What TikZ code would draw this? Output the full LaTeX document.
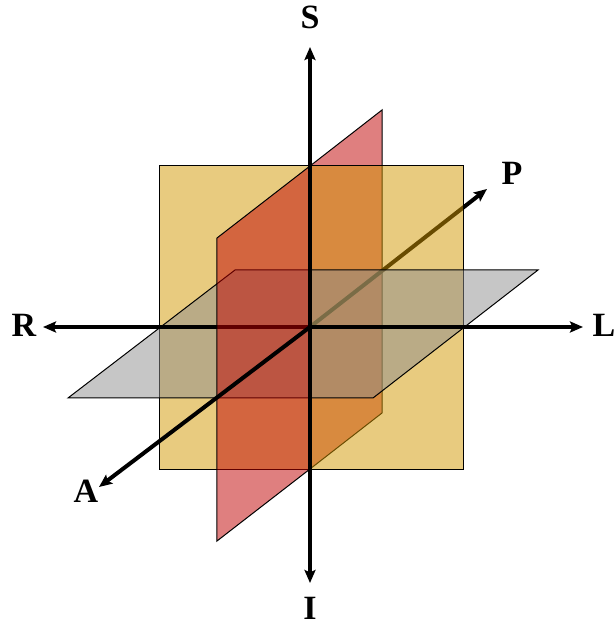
\documentclass[tikz,border=0pt]{standalone}
\usepackage{fontspec}
\setmainfont{Liberation Serif}
\usetikzlibrary{arrows.meta}
\definecolor{coronal}{RGB}{209,151,0}
\definecolor{sagittal}{RGB}{192,0,0}
\definecolor{axial}{RGB}{141,141,141}
\tikzset{
  >={Stealth[length=6.5pt,width=5.5pt,inset=1.2pt]},
  plane/.style={fill opacity=0.5, draw=black, line width=0.5pt},
  edge/.style={line width=0.5pt},
  axis/.style={line width=2pt},
  axislabel/.style={font=\fontsize{17}{20}\selectfont\bfseries, inner sep=0pt},
}
\begin{document}
\begin{tikzpicture}[x=0.5pt,y=0.5pt]
  \useasboundingbox (-310,-299) rectangle (304,327);
  % axis ends
  \coordinate (O) at (0,0);
  \coordinate (Stip) at (0,280);
  \coordinate (Itip) at (0,-256);
  \coordinate (Rtip) at (-267,0);
  \coordinate (Ltip) at (273,0);
  \coordinate (Atip) at (-211,-160);
  \coordinate (Ptip) at (177,138);
  % sagittal plane, back half
  \fill[sagittal, fill opacity=0.5] (0,161) -- (72,217) -- (72,-86) -- (0,-142) -- cycle;
  \draw[edge] (0,161) -- (72,217) -- (72,-86) -- (0,-142);
  \draw[axis,->] (O) -- (Ptip);
  % coronal plane
  \filldraw[plane, fill=coronal] (-150,-142) rectangle (153,161);
  % axial plane
  \filldraw[plane, fill=axial] (-242,-71) -- (63,-71) -- (228,57) -- (-75,57) -- cycle;
  \draw[axis,<->] (Rtip) -- (Ltip);
  % sagittal plane, front half
  \fill[sagittal, fill opacity=0.5] (0,161) -- (-93,89) -- (-93,-214) -- (0,-142) -- cycle;
  \draw[edge] (0,161) -- (-93,89) -- (-93,-214) -- (0,-142);
  \draw[axis,<->] (Itip) -- (Stip);
  \draw[axis,->] (O) -- (Atip);
  % labels
  \node[axislabel] (S) at (0,310) {S};
  \node[axislabel] (I) at (0,-281) {I};
  \node[axislabel] (R) at (-286,2) {R};
  \node[axislabel] (L) at (294,2) {L};
  \node[axislabel] (P) at (202,154) {P};
  \node[axislabel] (A) at (-224,-164) {A};
\end{tikzpicture}
\end{document}
